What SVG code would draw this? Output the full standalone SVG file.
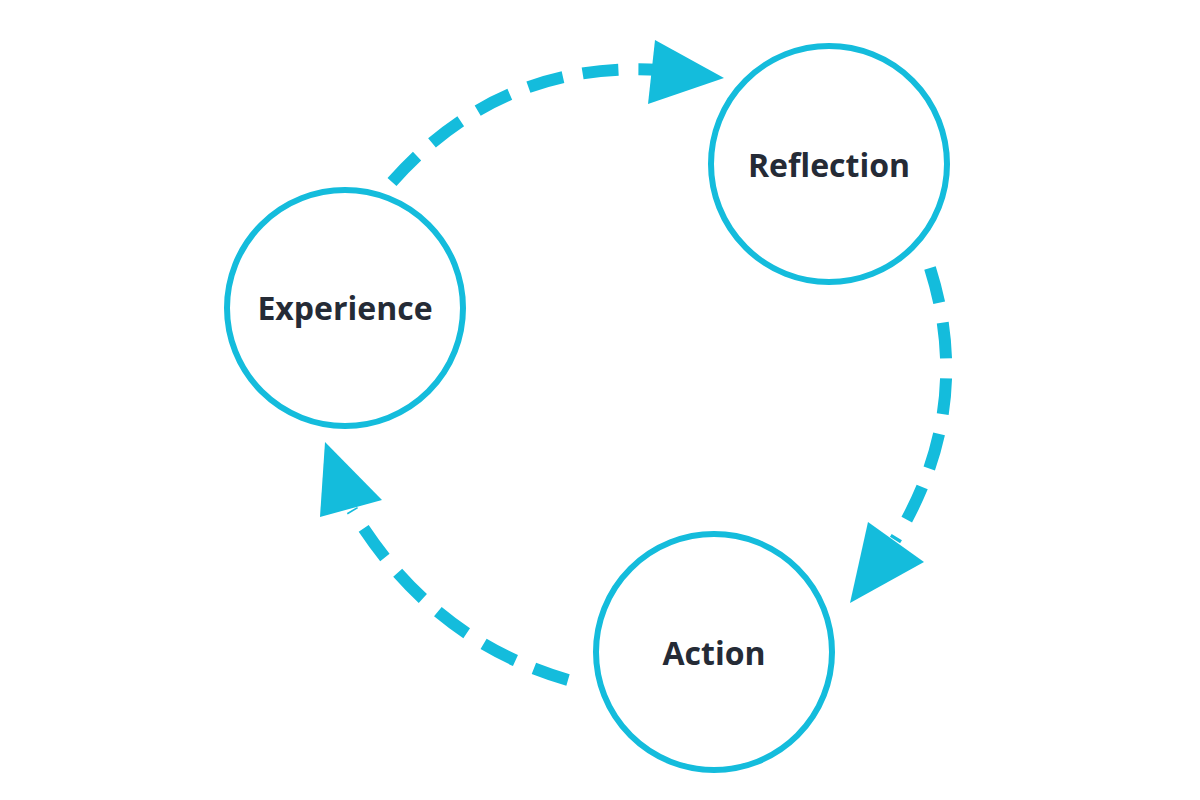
<svg xmlns="http://www.w3.org/2000/svg" width="1200" height="800" viewBox="0 0 1200 800">
<style>
.node{fill:#fff;stroke:#14bcdc;stroke-width:6}
.lbl{font-family:"Open Sans","Liberation Sans",sans-serif;font-weight:bold;font-size:32px;fill:#252b36;text-anchor:middle;dominant-baseline:central}
.con{fill:none;stroke:#14bcdc;stroke-width:12;stroke-dasharray:36 20}
.head{fill:#14bcdc}
</style>
<rect width="1200" height="800" fill="#fff"/>
<g id="connectors">
<path class="con" d="M392,182 Q500,60 660,70"/>
<polygon class="head" points="724,78 655,40 648,104"/>
<path class="con" d="M930,268 Q975,410 895,540"/>
<polygon class="head" points="850,603 868,522 924,562"/>
<path class="con" d="M568,680 Q430,640 352,510"/>
<polygon class="head" points="325,442 320,517 382,500"/>
</g>
<g id="experience"><circle class="node" cx="345" cy="308" r="118"/><text class="lbl" x="345" y="307">Experience</text></g>
<g id="reflection"><circle class="node" cx="829" cy="164" r="118"/><text class="lbl" x="829" y="164">Reflection</text></g>
<g id="action"><circle class="node" cx="714" cy="652" r="118"/><text class="lbl" x="714" y="652">Action</text></g>
</svg>
